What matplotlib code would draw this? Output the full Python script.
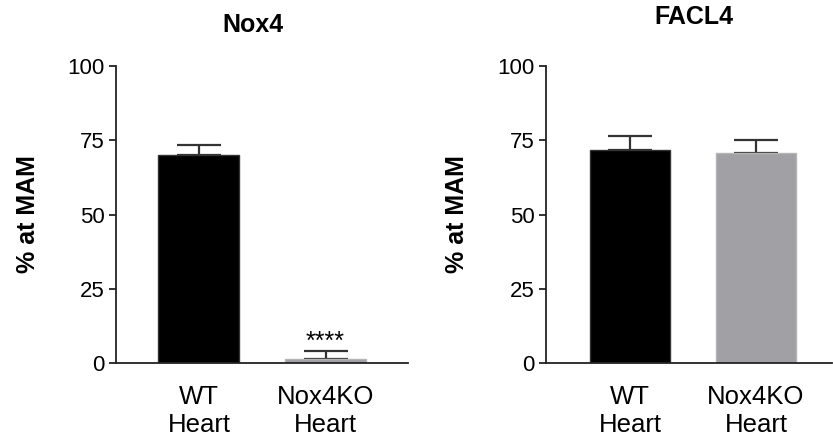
import numpy as np
import matplotlib.pyplot as plt

plt.rcParams['font.family'] = ['Liberation Sans', 'DejaVu Sans']

categories = ['WT\nHeart', 'Nox4KO\nHeart']
bar_colors = ['#000000', '#a1a1a5']

# Nox4 panel
nox4_mean = [70.0, 1.3]
nox4_err = [3.3, 2.8]

# FACL4 panel
facl4_mean = [71.8, 70.9]
facl4_err = [4.6, 4.2]

yticks = [0, 25, 50, 75, 100]


def draw_panel(ax, means, errs, title, title_xy, xlim):
	x = np.arange(len(categories))
	ax.bar(x, means, width=0.64, color=bar_colors, edgecolor=['#333333', '#b5b5b8'],
		linewidth=1.0, zorder=2)
	# only the upper half of the error bar, prism style
	ax.errorbar(x, means, yerr=[np.zeros(len(errs)), errs], fmt='none',
		ecolor='#333333', elinewidth=1.6, capsize=15.5, capthick=1.6, zorder=1)

	ax.set_xlim(*xlim)
	ax.set_ylim(0, 100)
	ax.set_yticks(yticks)
	ax.set_xticks(x)
	ax.set_xticklabels(categories, fontsize=18.5)
	ax.tick_params(axis='x', length=0, pad=16)
	ax.tick_params(axis='y', length=5, width=1.3, labelsize=16, pad=3, color='#222222')

	for side in ['top', 'right']:
		ax.spines[side].set_visible(False)
	for side in ['left', 'bottom']:
		ax.spines[side].set_linewidth(1.3)
		ax.spines[side].set_color('#222222')
	ax.spines['left'].set_zorder(3)

	ax.set_ylabel('% at MAM', fontsize=18, fontweight='bold', labelpad=20)
	fig.text(title_xy[0], title_xy[1], title, ha='center', va='center',
		fontsize=18, fontweight='bold')


fig = plt.figure(figsize=(8.33, 4.47), dpi=100)

ax1 = fig.add_axes([0.139, 0.188, 0.351, 0.664])
draw_panel(ax1, nox4_mean, nox4_err, 'Nox4', (253 / 833, 1 - 25 / 447), (-0.656, 1.652))
ax1.text(1, nox4_mean[1] + nox4_err[1] - 1.0, '****', ha='center', va='bottom', fontsize=18)

ax2 = fig.add_axes([0.655, 0.188, 0.344, 0.664])
draw_panel(ax2, facl4_mean, facl4_err, 'FACL4', (694 / 833, 1 - 17 / 447), (-0.673, 1.606))

fig.savefig('out.png', dpi=100)
